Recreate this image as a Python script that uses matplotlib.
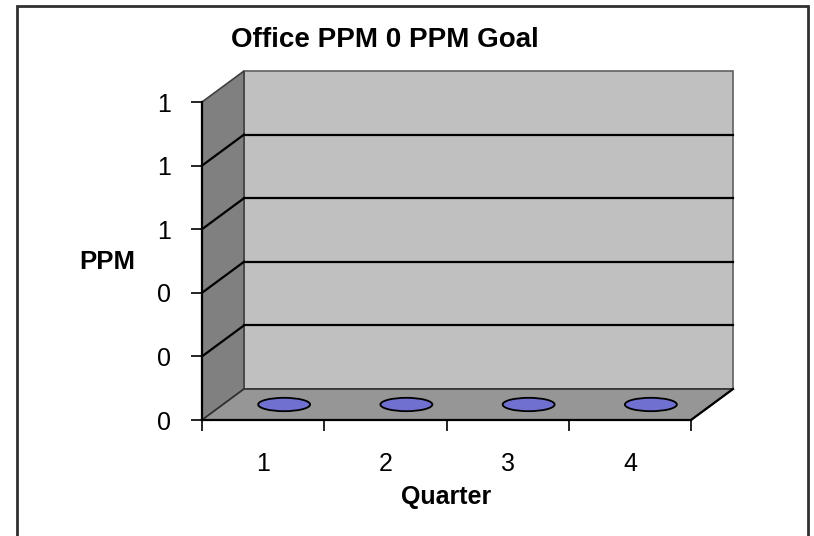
import matplotlib
matplotlib.use("Agg")
import matplotlib.pyplot as plt
from matplotlib.patches import Polygon, Rectangle, Ellipse
from matplotlib.transforms import Affine2D, IdentityTransform
import numpy as np

plt.rcParams['font.family'] = ['Liberation Sans', 'DejaVu Sans']

quarters = [1, 2, 3, 4]
ppm_values = [0, 0, 0, 0]
y_ticks = [0, 0.2, 0.4, 0.6, 0.8, 1.0]
y_tick_labels = ['0', '0', '0', '1', '1', '1']
title = "Office PPM 0 PPM Goal"
x_label = "Quarter"
y_label = "PPM"

W, H = 814, 536
fig = plt.figure(figsize=(W / 100, H / 100), dpi=100)
fig.patch.set_facecolor('white')

# front plane of the 3D box in pixels
fx0, fx1, fy0, fy1 = 202, 691, 420, 102
ax = fig.add_axes([fx0 / W, (H - fy0) / H, (fx1 - fx0) / W, (fy0 - fy1) / H])
ax.set_xlim(0.5, 4.5)
ax.set_ylim(0, 1)
ax.patch.set_alpha(0)

dx, dy = 42, 31  # depth offset in pixels (display units, y up)
back = ax.transData + Affine2D().translate(dx, dy)
mid = ax.transData + Affine2D().translate(dx / 2, dy / 2)

def disp(x, y, off=0.0):
    px, py = ax.transData.transform((x, y))
    return (px + dx * off, py + dy * off)

x0, x1 = 0.5, 4.5
# back wall
ax.add_patch(Rectangle((x0, 0), x1 - x0, 1, transform=back, facecolor='#c0c0c0',
                       edgecolor='#606060', lw=1.2, clip_on=False, zorder=0))
# side wall
side = [disp(x0, 0), disp(x0, 1), disp(x0, 1, 1), disp(x0, 0, 1)]
ax.add_patch(Polygon(side, closed=True, transform=IdentityTransform(), facecolor='#808080',
                     edgecolor='#404040', lw=1.2, clip_on=False, zorder=0))
# floor
floor = [disp(x0, 0), disp(x1, 0), disp(x1, 0, 1), disp(x0, 0, 1)]
ax.add_patch(Polygon(floor, closed=True, transform=IdentityTransform(), facecolor='#969696',
                     edgecolor='#303030', lw=1.2, clip_on=False, zorder=0))
# floor right edge black
p1, p2 = disp(x1, 0), disp(x1, 0, 1)
ax.plot([p1[0], p2[0]], [p1[1], p2[1]], transform=IdentityTransform(), color='black',
        lw=1.6, clip_on=False, zorder=1)

# gridlines on back wall and side wall
for v in y_ticks[1:-1]:
    ax.plot([x0, x1], [v, v], transform=back, color='black', lw=1.6, clip_on=False, zorder=1)
    a, b = disp(x0, v), disp(x0, v, 1)
    ax.plot([a[0], b[0]], [a[1], b[1]], transform=IdentityTransform(), color='black',
            lw=1.6, clip_on=False, zorder=1)

# data markers (flat discs at value)
for q, v in zip(quarters, ppm_values):
    ax.add_patch(Ellipse((q, v), 0.425, 0.042, transform=mid, facecolor='#7070d0',
                         edgecolor='black', lw=1.3, clip_on=False, zorder=3))

# axes styling
for s in ['top', 'right']:
    ax.spines[s].set_visible(False)
for s in ['left', 'bottom']:
    ax.spines[s].set_color('black')
    ax.spines[s].set_linewidth(1.6)
    ax.spines[s].set_zorder(2)

ax.set_yticks(y_ticks)
ax.set_yticklabels(y_tick_labels, fontsize=18)
ax.tick_params(axis='y', direction='out', length=8, width=1.2, pad=14)
ax.set_xticks(np.arange(0.5, 4.6, 1.0))
ax.set_xticklabels([])
ax.set_xticks(quarters, minor=True)
ax.set_xticklabels([str(q) for q in quarters], minor=True, fontsize=18)
ax.tick_params(axis='x', which='major', direction='out', length=8, width=1.2)
ax.tick_params(axis='x', which='minor', length=0, pad=23)

fig.text(385 / W, 1 - 40 / H, title, fontsize=20, fontweight='bold', ha='center', va='center')
fig.text(107 / W, 1 - 262 / H, y_label, fontsize=18.5, fontweight='bold', ha='center', va='center')
fig.text(446 / W, 1 - 497 / H, x_label, fontsize=18, fontweight='bold', ha='center', va='center')

# chart border
fig.add_artist(Rectangle((17 / W, -0.01), (808 - 17) / W, (H - 6) / H + 0.01,
                         transform=fig.transFigure, fill=False, edgecolor='#303030', lw=2))

fig.savefig("out.png", dpi=100, facecolor='white')
